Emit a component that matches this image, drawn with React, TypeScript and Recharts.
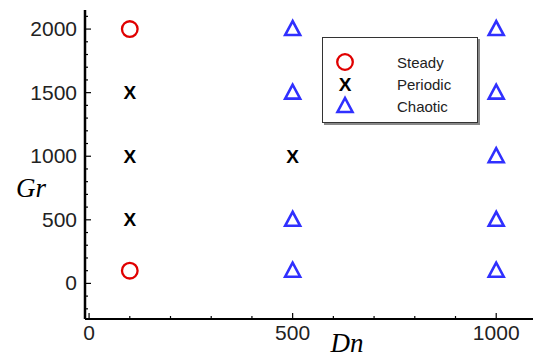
import { ScatterChart, Scatter, XAxis, YAxis } from "recharts";

// regime map: Dn (x) vs Gr (y)
const steadyDn = [100, 100];
const steadyGr = [2000, 100];
const periodicDn = [100, 100, 100, 500];
const periodicGr = [1500, 1000, 500, 1000];
const chaoticDn = [500, 500, 500, 500, 1000, 1000, 1000, 1000, 1000];
const chaoticGr = [2000, 1500, 500, 100, 2000, 1500, 1000, 500, 100];

const xTicks = [0, 100, 200, 300, 400, 500, 600, 700, 800, 900, 1000, 1100];
const yTicks = [-200, -100, 0, 100, 200, 300, 400, 500, 600, 700, 800, 900, 1000, 1100, 1200, 1300, 1400, 1500, 1600, 1700, 1800, 1900, 2000, 2100];
const labelled = [0, 500, 1000, 1500, 2000];

const legendItems = ["Steady", "Periodic", "Chaotic"];

const RED = "#e00000";
const BLUE = "#3030ff";
const TICK_FONT = "'Liberation Sans', Arial, sans-serif";

const toPoints = (xs: number[], ys: number[]) => xs.map((x, i) => ({ dn: x, gr: ys[i] }));

const CircleMark = ({ cx, cy }: any) => (
  <circle cx={cx} cy={cy} r={7.8} fill="none" stroke={RED} strokeWidth={2.3} />
);

const CrossMark = ({ cx, cy }: any) => (
  <text x={cx} y={cy + 6.5} textAnchor="middle" fontFamily={TICK_FONT} fontWeight="bold" fontSize={19} fill="#000">
    X
  </text>
);

const TriMark = ({ cx, cy }: any) => (
  <polygon
    points={`${cx},${cy - 8} ${cx - 7.5},${cy + 6} ${cx + 7.5},${cy + 6}`}
    fill="none"
    stroke={BLUE}
    strokeWidth={2.6}
    strokeLinejoin="miter"
  />
);

function LeftTick({ x, y, payload }: any) {
  const major = labelled.includes(payload.value);
  return (
    <g>
      <line x1={x} x2={x + (major ? 6 : 3)} y1={y} y2={y} stroke="#000" strokeWidth={1.2} />
      {major && (
        <text x={x - 8} y={y + 7} textAnchor="end" fontFamily={TICK_FONT} fontSize={21} fill="#222">
          {payload.value}
        </text>
      )}
    </g>
  );
}

function BottomTick({ x, y, payload }: any) {
  const major = labelled.includes(payload.value);
  return (
    <g>
      <line x1={x} x2={x} y1={y} y2={y - (major ? 6 : 3)} stroke="#000" strokeWidth={1.2} />
      {major && (
        <text x={x} y={y + 21} textAnchor="middle" fontFamily={TICK_FONT} fontSize={21} fill="#222">
          {payload.value}
        </text>
      )}
    </g>
  );
}

function LegendBox() {
  const icons = [
    <circle cx={10} cy={10} r={7.8} fill="none" stroke={RED} strokeWidth={2.3} />,
    <text x={10} y={16.5} textAnchor="middle" fontFamily={TICK_FONT} fontWeight="bold" fontSize={19}>X</text>,
    <polygon points="10,2 2.5,16 17.5,16" fill="none" stroke={BLUE} strokeWidth={2.6} />,
  ];
  return (
    <div
      style={{
        position: "absolute",
        left: 322,
        top: 37,
        width: 154,
        height: 84,
        border: "1px solid #333",
        boxShadow: "2px 2px 0 #888",
        background: "#fff",
        fontFamily: TICK_FONT,
        fontSize: 15,
        color: "#222",
      }}
    >
      {legendItems.map((name, i) => (
        <div key={name} style={{ position: "absolute", left: 12, top: 14 + i * 22, height: 20, display: "flex", alignItems: "center" }}>
          <svg width={20} height={20} style={{ overflow: "visible" }}>{icons[i]}</svg>
          <span style={{ marginLeft: 42 }}>{name}</span>
        </div>
      ))}
    </div>
  );
}

export default function App() {
  return (
    <div style={{ position: "absolute", left: 0, top: 0, width: 533, height: 358, overflow: "hidden", background: "#fff" }}>
      <ScatterChart width={545} height={358} margin={{ top: 10, right: 4, bottom: 0, left: 0 }}>
        <XAxis
          dataKey="dn"
          type="number"
          domain={[-10, 1110]}
          ticks={xTicks}
          interval={0}
          height={39}
          tickSize={0}
          tickMargin={0}
          tickLine={false}
          axisLine={{ stroke: "#000", strokeWidth: 2 }}
          tick={<BottomTick />}
          label={({ viewBox }: any) => (
            <text x={347} y={viewBox.y + 33} textAnchor="middle" fontFamily="'Liberation Serif', serif" fontStyle="italic" fontSize={27} fill="#000">
              Dn
            </text>
          )}
        />
        <XAxis
          xAxisId="top"
          orientation="top"
          type="number"
          domain={[-10, 1110]}
          height={0}
          tick={false}
          tickLine={false}
          axisLine={{ stroke: "#555", strokeWidth: 2 }}
        />
        <YAxis
          dataKey="gr"
          type="number"
          domain={[-280, 2150]}
          ticks={yTicks}
          interval={0}
          width={85}
          tickSize={0}
          tickMargin={0}
          tickLine={false}
          axisLine={{ stroke: "#000", strokeWidth: 2.5 }}
          tick={<LeftTick />}
          label={() => (
            <text x={31} y={197} textAnchor="middle" fontFamily="'Liberation Serif', serif" fontStyle="italic" fontSize={27} fill="#000">
              Gr
            </text>
          )}
        />
        <Scatter name="Steady" data={toPoints(steadyDn, steadyGr)} shape={CircleMark} isAnimationActive={false} />
        <Scatter name="Periodic" data={toPoints(periodicDn, periodicGr)} shape={CrossMark} isAnimationActive={false} />
        <Scatter name="Chaotic" data={toPoints(chaoticDn, chaoticGr)} shape={TriMark} isAnimationActive={false} />
      </ScatterChart>
      <LegendBox />
    </div>
  );
}
